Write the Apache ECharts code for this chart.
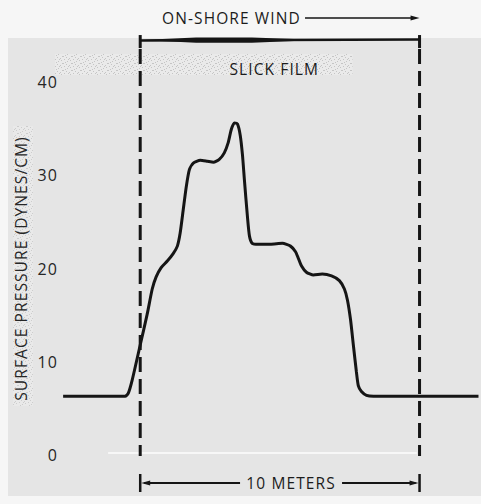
<!DOCTYPE html>
<html>
<head>
<meta charset="utf-8">
<script src="https://cdn.jsdelivr.net/npm/echarts@6/dist/echarts.min.js"></script>
<style>
  html, body { margin: 0; padding: 0; background: #f6f6f6; }
  #chart { width: 481px; height: 504px; }
  #chart text { letter-spacing: 1.1px; }
</style>
</head>
<body>
<div id="chart"></div>
<script>
// Distance along the tank (meters; 0 and 10 mark the edges of the slick film)
const distanceM = [
  -2.76, -0.54, -0.43, -0.29, 0.00, 0.25, 0.43, 0.57, 0.75, 0.97, 1.18, 1.33,
  1.43, 1.54, 1.65, 1.76, 1.90, 2.15, 2.40, 2.62, 2.83, 3.01, 3.15, 3.26,
  3.37, 3.48, 3.58, 3.66, 3.73, 3.84, 3.91, 4.01, 4.23, 4.66, 5.09, 5.38,
  5.56, 5.66, 5.77, 5.95, 6.20, 6.52, 6.85, 7.13, 7.31, 7.42, 7.53, 7.63,
  7.74, 7.81, 7.92, 8.10, 8.35, 12.11
];
// Surface pressure (dynes/cm)
const pressure = [
  6.3, 6.3, 6.6, 8.0, 11.8, 15.1, 17.8, 19.1, 20.1, 20.8, 21.6, 22.4,
  23.8, 26.3, 28.8, 30.6, 31.3, 31.6, 31.5, 31.4, 31.7, 32.4, 33.5, 34.9,
  35.6, 35.5, 34.3, 32.2, 29.5, 25.5, 23.5, 22.7, 22.6, 22.6, 22.7, 22.4,
  21.8, 21.1, 20.3, 19.6, 19.3, 19.4, 19.2, 18.7, 17.8, 16.6, 14.5, 11.8,
  8.9, 7.4, 6.8, 6.4, 6.3, 6.3
];
const yTicks = [0, 10, 20, 30, 40];
const filmEdges = [0, 10];

const yTitle = 'SURFACE PRESSURE (DYNES/CM)';
const windLabel = 'ON-SHORE WIND';
const filmLabel = 'SLICK FILM';
const spanLabel = '10 METERS';

const ink = '#151515';
const textInk = '#1c1c1c';
const font = 'Open Sans';
const chart = echarts.init(document.getElementById('chart'), null, { renderer: 'svg' });

chart.setOption({
  backgroundColor: '#f6f6f6',
  animation: false,
  grid: { left: 62, right: 0, top: 82, bottom: 49 },
  xAxis: {
    type: 'value', min: -2.8, max: 12.2,
    axisLine: { show: false }, axisTick: { show: false },
    axisLabel: { show: false }, splitLine: { show: false }
  },
  yAxis: {
    type: 'value', min: yTicks[0], max: yTicks[yTicks.length - 1], interval: 10,
    axisLine: { show: false }, axisTick: { show: false }, splitLine: { show: false },
    axisLabel: { fontFamily: font, fontWeight: 500, fontSize: 16, color: '#262626', margin: 4 },
    name: yTitle, nameLocation: 'middle', nameRotate: 90, nameGap: 33,
    nameTextStyle: { fontFamily: font, fontWeight: 500, fontSize: 15.5, color: '#262626' }
  },
  series: [{
    type: 'line',
    data: distanceM.map((d, i) => [d, pressure[i]]),
    smooth: 0.2,
    symbol: 'none',
    clip: false,
    lineStyle: { color: ink, width: 3 },
    z: 5
  }]
});

// Mottled texture used behind the film label and the axis title
function stipple() {
  const c = document.createElement('canvas');
  c.width = 9; c.height = 7;
  const g = c.getContext('2d');
  g.fillStyle = '#eeeeee'; g.fillRect(0, 0, 9, 7);
  g.fillStyle = '#b0b0b0';
  [[0, 0], [3, 1], [6, 2], [1, 3], [8, 0], [4, 5], [7, 4], [2, 6], [5, 3]]
    .forEach(p => g.fillRect(p[0], p[1], 1, 1));
  return c.toDataURL();
}
const dots = { image: stipple(), repeat: 'repeat' };

const px = (x, y) => chart.convertToPixel({ gridIndex: 0 }, [x, y]);
const topLevel = 44.5;      // height of the film bracket
const spanLevel = -3.0;     // height of the 10 m dimension line
const xL = px(filmEdges[0], 0)[0];
const xR = px(filmEdges[1], 0)[0];
const yTop = px(0, topLevel)[1];
const yBase = px(0, 0)[1];
const ySpan = px(0, spanLevel)[1];

const g = [];
// paper tone
g.push({ type: 'rect', z: -10, silent: true, shape: { x: 8, y: yTop - 2, width: 481, height: 498 - yTop },
  style: { fill: '#e5e5e5' } });
g.push({ type: 'rect', z: -9, shape: { x: 55, y: px(0, 43)[1], width: px(7.6, 0)[0] - 55, height: 21 },
  style: { fill: dots, opacity: 0.6 } });
g.push({ type: 'rect', z: -9, shape: { x: 13, y: 126, width: 20, height: 280 },
  style: { fill: dots, opacity: 0.45 } });
// faint old baseline
g.push({ type: 'line', z: -8, shape: { x1: px(-1.15, 0)[0], y1: yBase - 2, x2: px(9.9, 0)[0], y2: yBase - 2 },
  style: { stroke: '#f7f7f7', lineWidth: 2 } });

// dashed film edges
filmEdges.forEach(e => {
  const x = px(e, 0)[0];
  g.push({ type: 'line', z: 4, shape: { x1: x, y1: yTop + 9, x2: x, y2: yBase + 1 },
    style: { stroke: ink, lineWidth: 3, lineDash: [15, 7] } });
  g.push({ type: 'line', z: 4, shape: { x1: x, y1: yTop - 5, x2: x, y2: yTop + 8 },
    style: { stroke: ink, lineWidth: 3 } });
});
// film bracket with its thickened stretch
g.push({ type: 'line', z: 4, shape: { x1: xL, y1: yTop + 0.5, x2: xR, y2: yTop - 0.5 },
  style: { stroke: ink, lineWidth: 2.5 } });
const w = xR - xL;
g.push({ type: 'polygon', z: 4, shape: { points: [
  [xL, yTop], [xL + 0.2 * w, yTop - 2.6], [xL + 0.4 * w, yTop - 2.6], [xL + 0.55 * w, yTop - 1],
  [xL + 0.55 * w, yTop + 1], [xL + 0.4 * w, yTop + 2.6], [xL + 0.2 * w, yTop + 2.6]
] }, style: { fill: ink } });

const labelStyle = { fontFamily: font, fontWeight: 500, fontSize: 15.5, fill: textInk, verticalAlign: 'middle' };

// wind arrow
const yWind = 18;
g.push({ type: 'text', z: 6, style: Object.assign({ text: windLabel, x: px(5.75, 0)[0], y: yWind, align: 'right' }, labelStyle) });
g.push({ type: 'line', z: 6, shape: { x1: px(5.9, 0)[0], y1: yWind, x2: xR - 6, y2: yWind },
  style: { stroke: ink, lineWidth: 1.5 } });
g.push({ type: 'polygon', z: 6, shape: { points: [[xR, yWind], [xR - 9, yWind - 2.5], [xR - 9, yWind + 2.5]] },
  style: { fill: ink } });

// film label
g.push({ type: 'text', z: 6, style: Object.assign({ text: filmLabel, x: px(4.8, 0)[0], y: px(0, 41.4)[1], align: 'center' }, labelStyle) });

// 10 m dimension line
const xText = px(5.4, 0)[0];
g.push({ type: 'text', z: 6, style: Object.assign({ text: spanLabel, x: xText, y: ySpan, align: 'center' }, labelStyle) });
g.push({ type: 'line', z: 6, shape: { x1: xL + 4, y1: ySpan, x2: xText - 51, y2: ySpan },
  style: { stroke: ink, lineWidth: 1.8 } });
g.push({ type: 'line', z: 6, shape: { x1: xText + 51, y1: ySpan, x2: xR - 4, y2: ySpan },
  style: { stroke: ink, lineWidth: 1.8 } });
g.push({ type: 'polygon', z: 6, shape: { points: [[xL + 1, ySpan], [xL + 10, ySpan - 2.5], [xL + 10, ySpan + 2.5]] },
  style: { fill: ink } });
g.push({ type: 'polygon', z: 6, shape: { points: [[xR - 1, ySpan], [xR - 10, ySpan - 2.5], [xR - 10, ySpan + 2.5]] },
  style: { fill: ink } });
filmEdges.forEach(e => {
  const x = px(e, 0)[0];
  g.push({ type: 'line', z: 6, shape: { x1: x, y1: ySpan - 9, x2: x, y2: ySpan + 9 },
    style: { stroke: ink, lineWidth: 2.5 } });
});

chart.setOption({ graphic: g });
</script>
</body>
</html>
